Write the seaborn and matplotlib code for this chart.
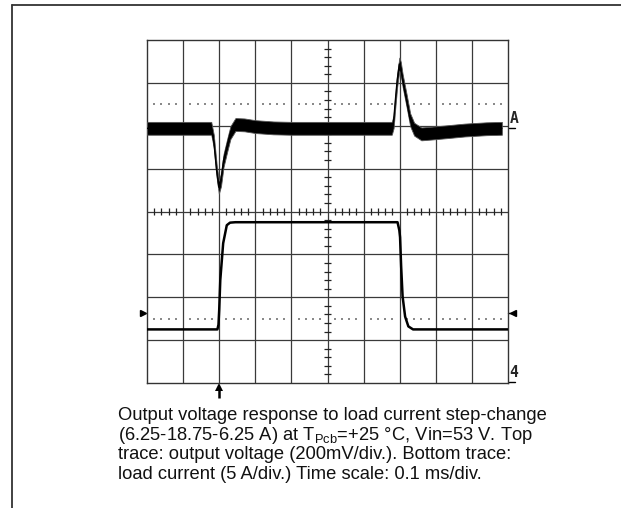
import numpy as np
import pandas as pd
import matplotlib
matplotlib.use("Agg")
import matplotlib.pyplot as plt
from matplotlib.lines import Line2D
import seaborn as sns

# ---- data (time in scope divisions, 0.1 ms/div) ----
t_volt = [0.0, 1.78, 1.85, 1.93, 1.99, 2.05, 2.12, 2.22, 2.31, 2.45, 2.7, 3.0, 3.5, 4.0,
          6.78, 6.83, 6.88, 6.93, 6.99, 7.03, 7.08, 7.19, 7.29, 7.4, 7.6, 7.9, 8.3, 8.8, 9.4, 9.83]
v_dev_mv = [0, 0, -60, -200, -275, -240, -150, -80, -20, 18, 16, 8, 2, 0,
            0, 30, 130, 224, 300, 280, 224, 130, 40, -4, -26, -22, -16, -8, -2, 0]
t_curr = [0.0, 1.95, 1.98, 2.0, 2.03, 2.11, 2.21, 2.3, 2.45, 6.94, 6.99, 7.01, 7.04, 7.08,
          7.15, 7.24, 7.37, 10.0]
i_load = [6.25, 6.25, 6.8, 8.5, 12.0, 16.3, 18.4, 18.7, 18.75, 18.75, 17.8, 17.0, 13.6, 10.1,
          7.75, 6.6, 6.25, 6.25]

caption_lines = [
    "Output voltage response to load current step-change",
    "(6.25-18.75-6.25 A) at T$_{\\mathrm{Pcb}}$=+25 °C, Vin=53 V. Top",
    "trace: output voltage (200mV/div.). Bottom trace:",
    "load current (5 A/div.) Time scale: 0.1 ms/div.",
]

VOLT_SCALE = 200.0   # mV/div
CURR_SCALE = 5.0     # A/div
VOLT_REF = 1.94      # channel A reference (div)
CURR_REF = -4.0      # channel 4 ground (div)
NOISE_HALF = 0.15    # half width of the noise band on the voltage trace (div)

volt = pd.DataFrame({"t": t_volt, "y": [VOLT_REF + v / VOLT_SCALE for v in v_dev_mv]})
curr = pd.DataFrame({"t": t_curr, "y": [CURR_REF + i / CURR_SCALE for i in i_load]})

sns.set_theme(style="white")
plt.rcParams["font.family"] = ["Liberation Sans", "DejaVu Sans"]
plt.rcParams["mathtext.fontset"] = "custom"
plt.rcParams["mathtext.rm"] = "Liberation Sans"
plt.rcParams["mathtext.it"] = "Liberation Sans"

W, H = 621, 508
fig = plt.figure(figsize=(W / 100, H / 100), dpi=100)
fig.patch.set_facecolor("white")

# outer frame (top and left)
fig.add_artist(Line2D([12 / W, 1.0], [1 - 5 / H, 1 - 5 / H], color="#333333", lw=1.3))
fig.add_artist(Line2D([12 / W, 12 / W], [0, 1 - 5 / H], color="#333333", lw=1.3))

ax = fig.add_axes([147 / W, 1 - 383 / H, 361 / W, 343 / H])
ax.set_xlim(0, 10)
ax.set_ylim(-4, 4)
ax.set_xticks([])
ax.set_yticks([])
ax.set_facecolor("white")
for s in ax.spines.values():
    s.set_color("#333333")
    s.set_linewidth(1.0)

grid_c = "#3a3a3a"
for x in range(1, 10):
    ax.axvline(x, color=grid_c, lw=0.9, zorder=1)
for y in range(-3, 4):
    ax.axhline(y, color=grid_c, lw=0.9, zorder=1)

# center minor ticks
minor = np.arange(0.2, 10, 0.2)
minor = minor[np.abs(minor - np.round(minor)) > 1e-6]
ax.vlines(minor, -0.085, 0.085, color="#222222", lw=0.9, zorder=2)
minor_y = np.arange(-3.8, 4, 0.2)
minor_y = minor_y[np.abs(minor_y - np.round(minor_y)) > 1e-6]
ax.hlines(minor_y, 4.89, 5.11, color="#222222", lw=0.9, zorder=2)

# dotted reference rows
for yy in (2.5, -2.5):
    ax.scatter(minor, np.full_like(minor, yy), s=1.2, color="#8a8a8a", marker="s",
               linewidths=0, zorder=2)

# voltage trace with noise band
ax.fill_between(volt["t"], volt["y"] - NOISE_HALF, volt["y"] + NOISE_HALF,
                color="black", linewidth=0.6, edgecolor="#555555", zorder=3)
sns.lineplot(data=volt, x="t", y="y", ax=ax, color="black", lw=1.0, zorder=4,
             estimator=None, sort=False)

# current trace
sns.lineplot(data=curr, x="t", y="y", ax=ax, color="black", lw=1.8, zorder=4,
             estimator=None, sort=False)
ax.set_xlabel("")
ax.set_ylabel("")

# trigger markers
ax.plot([-0.12], [-2.37], marker=">", color="black", ms=5, clip_on=False, zorder=5)
ax.plot([10.14], [-2.37], marker="<", color="black", ms=5, clip_on=False, zorder=5)
ax.plot([10.0, 10.1], [-2.37, -2.37], color="black", lw=1.0, clip_on=False)

# channel labels
ax.text(10.04, VOLT_REF + 0.06, "A", fontsize=10.5, family="DejaVu Sans Mono",
        ha="left", va="bottom", clip_on=False, fontweight="bold")
ax.plot([10.02, 10.2], [VOLT_REF, VOLT_REF], color="black", lw=1.0, clip_on=False)
ax.text(10.04, CURR_REF + 0.08, "4", fontsize=10.5, family="DejaVu Sans Mono",
        ha="left", va="bottom", clip_on=False, fontweight="bold")
ax.plot([10.02, 10.2], [CURR_REF + 0.03, CURR_REF + 0.03], color="black", lw=1.0,
        clip_on=False)

# trigger position arrow
ax.plot([2.0, 2.0], [-4.36, -4.12], color="black", lw=1.8, clip_on=False,
        solid_capstyle="butt")
ax.plot([2.0], [-4.09], marker="^", color="black", ms=5.5, clip_on=False,
        markeredgewidth=0)

# caption
base = 420
for k, line in enumerate(caption_lines):
    fig.text(118 / W, 1 - (base + 19.6 * k) / H, line, fontsize=13.25,
             ha="left", va="baseline", color="#111111")

fig.savefig("out.png", dpi=100, facecolor="white")
